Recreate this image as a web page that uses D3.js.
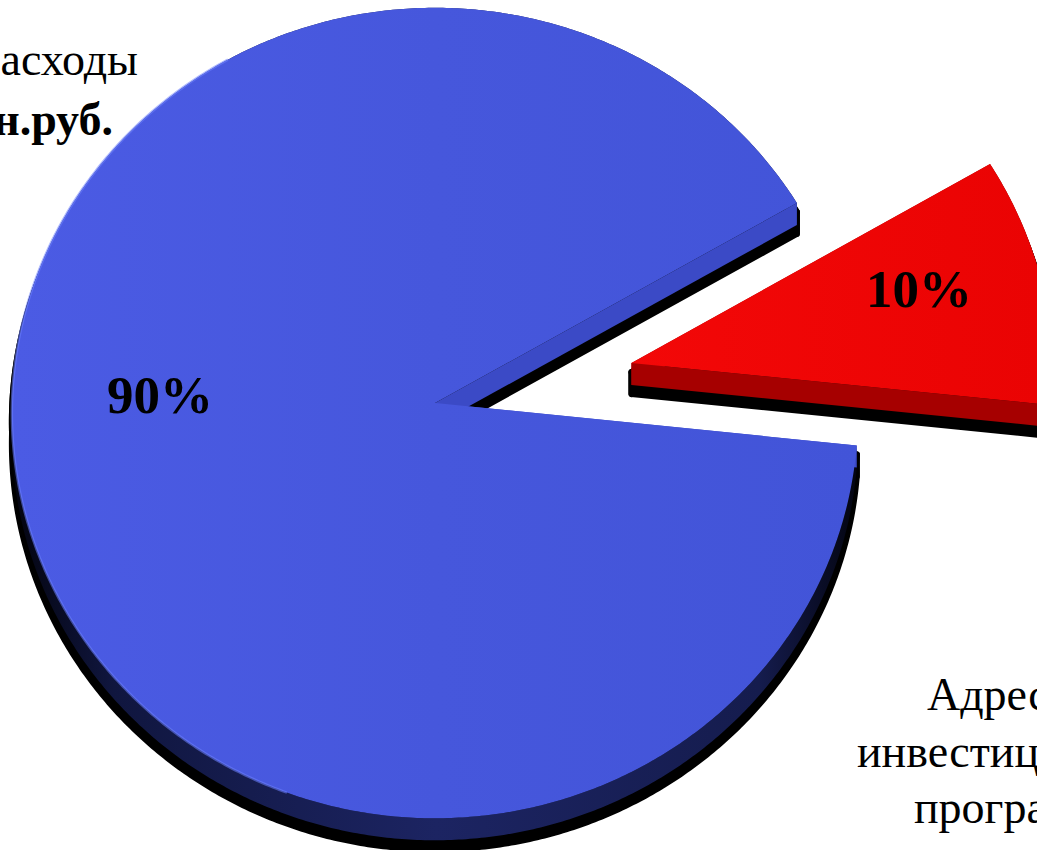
<!DOCTYPE html>
<html>
<head>
<meta charset="utf-8">
<script src="https://cdn.jsdelivr.net/npm/d3@7"></script>
<style>
  html, body { margin: 0; padding: 0; background: #ffffff; overflow: hidden; }
  text { font-family: "Liberation Serif", "Times New Roman", serif; fill: #000; }
</style>
</head>
<body>
<svg id="chart" width="1037" height="850"></svg>
<script>
// Budget structure: two shares of total spending
const categories = ["Текущие расходы", "Адресная инвестиционная программа"];
const shares = [90, 10];
const shareLabels = ["90%", "10%"];
const categoryLines = [["Текущие расходы", "млн.руб."], ["Адресная", "инвестиционная", "программа"]];

// ---- layout and style ----
const W = 1037, H = 850;
const cx = 435, cy = 403;          // pie centre on screen
const R = 423, K = 405;            // horizontal / vertical radius of the disc
const E = 0.0247;                  // perspective strength
const DEPTH = 22;                  // thickness of the disc
const explode = [0, 0.476];        // pull-out of each slice (in radii)
const topFill = ["url(#blueTop)", "url(#redTop)"];
const cutFill = ["#3b4ac6", "#a60000"];
const wallFill = ["url(#blueWall)", "#7a0000"];

const svg = d3.select("#chart");
const defs = svg.append("defs");

function linGrad(id, x1, x2, stops) {
  const g = defs.append("linearGradient").attr("id", id)
    .attr("gradientUnits", "userSpaceOnUse")
    .attr("x1", x1).attr("y1", 0).attr("x2", x2).attr("y2", 0);
  stops.forEach(([o, c]) => g.append("stop").attr("offset", o).attr("stop-color", c));
}
linGrad("blueTop", 12, 860, [[0, "#4b5be4"], [0.5, "#4657dc"], [1, "#4254d8"]]);
linGrad("redTop", 630, 1040, [[0, "#f30808"], [1, "#ea0303"]]);
linGrad("blueWall", 12, 860, [[0, "#03040f"], [0.12, "#10163f"], [0.5, "#1c2462"], [0.88, "#151c4e"], [1, "#03040f"]]);

// Angles from the pie layout (0 = 12 o'clock, clockwise)
const pie = d3.pie().sort(null).value(d => d)
  .startAngle(96 * Math.PI / 180)
  .endAngle((96 + 360) * Math.PI / 180);
const arcs = pie(shares);

// Perspective projection of a disc point (X, Y in radii) lowered by h pixels
function proj(X, Y, h) {
  const p = 1 / (1 - E * Y);
  return [cx + R * X * p, cy + K * Y * p + (h || 0)];
}
function slicePoint(i, a, r, h) {
  const d = arcs[i];
  const m = (d.startAngle + d.endAngle) / 2 - Math.PI / 2;
  const t = a - Math.PI / 2;
  const X = explode[i] * Math.cos(m) + r * Math.cos(t);
  const Y = explode[i] * Math.sin(m) + r * Math.sin(t);
  return proj(X, Y, h);
}
function rim(i, a0, a1, h) {
  const n = Math.max(2, Math.ceil(Math.abs(a1 - a0) / (Math.PI / 360)));
  return d3.range(n + 1).map(k => slicePoint(i, a0 + (a1 - a0) * k / n, 1, h));
}
const poly = d3.line().curve(d3.curveLinearClosed);

function pieces(i) {
  const d = arcs[i];
  const a0 = d.startAngle, a1 = d.endAngle;
  const apex = slicePoint(i, a0, 0, 0), apexLow = slicePoint(i, a0, 0, DEPTH);
  const p0 = slicePoint(i, a0, 1, 0), p1 = slicePoint(i, a1, 1, 0);
  const p0L = slicePoint(i, a0, 1, DEPTH), p1L = slicePoint(i, a1, 1, DEPTH);
  return {
    wall: poly(rim(i, a0, a1, 0).concat(rim(i, a1, a0, DEPTH))),
    cut0: poly([apex, p0, p0L, apexLow]),
    cut1: poly([apex, p1, p1L, apexLow]),
    top: poly([apex].concat(rim(i, a0, a1, 0)))
  };
}
const geo = arcs.map((d, i) => pieces(i));

// Drop shadows
const shadow = svg.append("g").attr("class", "shadows").attr("transform", "translate(0,9)");
geo.forEach(g => {
  ["wall", "cut0", "cut1", "top"].forEach(k => {
    shadow.append("path").attr("d", g[k])
      .attr("fill", "#000").attr("stroke", "#000")
      .attr("stroke-width", 6).attr("stroke-linejoin", "round");
  });
});

// Slices: side walls first, then the top faces
const slices = svg.append("g").attr("class", "slices");
geo.forEach((g, i) => {
  const s = slices.append("g").attr("class", "slice slice-" + i);
  s.append("path").attr("d", g.wall).attr("fill", wallFill[i]);
  s.append("path").attr("d", g.cut0).attr("fill", cutFill[i]);
  s.append("path").attr("d", g.cut1).attr("fill", cutFill[i]);
  s.append("path").attr("d", g.top).attr("fill", topFill[i]);
});

// Soft highlight along the left rim of the large slice
const hl = rim(0, 200 * Math.PI / 180, 330 * Math.PI / 180, 0);
slices.append("path").attr("d", d3.line()(hl))
  .attr("fill", "none").attr("stroke", "#6c80ff").attr("stroke-width", 2.5)
  .attr("stroke-opacity", 0.55);

// Share labels on the slices
const shareText = svg.append("g").attr("class", "share-labels")
  .style("font-weight", "bold").style("font-size", "53px");
const sharePos = [[107, 413], [866, 307]];
shareLabels.forEach((s, i) => {
  shareText.append("text").attr("x", sharePos[i][0]).attr("y", sharePos[i][1]).text(s);
});

// Category captions
const cap = svg.append("g").attr("class", "captions").style("font-size", "46px");
const topCap = cap.append("g");
topCap.append("text").attr("x", 138).attr("y", 75).attr("text-anchor", "end").text(categoryLines[0][0]);
topCap.append("text").attr("x", 113).attr("y", 135).attr("text-anchor", "end")
  .style("font-weight", "bold").text(categoryLines[0][1]);
const botCap = cap.append("g");
const botPos = [[927, 710], [857, 767], [914, 823]];
categoryLines[1].forEach((s, k) => {
  botCap.append("text").attr("x", botPos[k][0]).attr("y", botPos[k][1]).text(s);
});
</script>
</body>
</html>
